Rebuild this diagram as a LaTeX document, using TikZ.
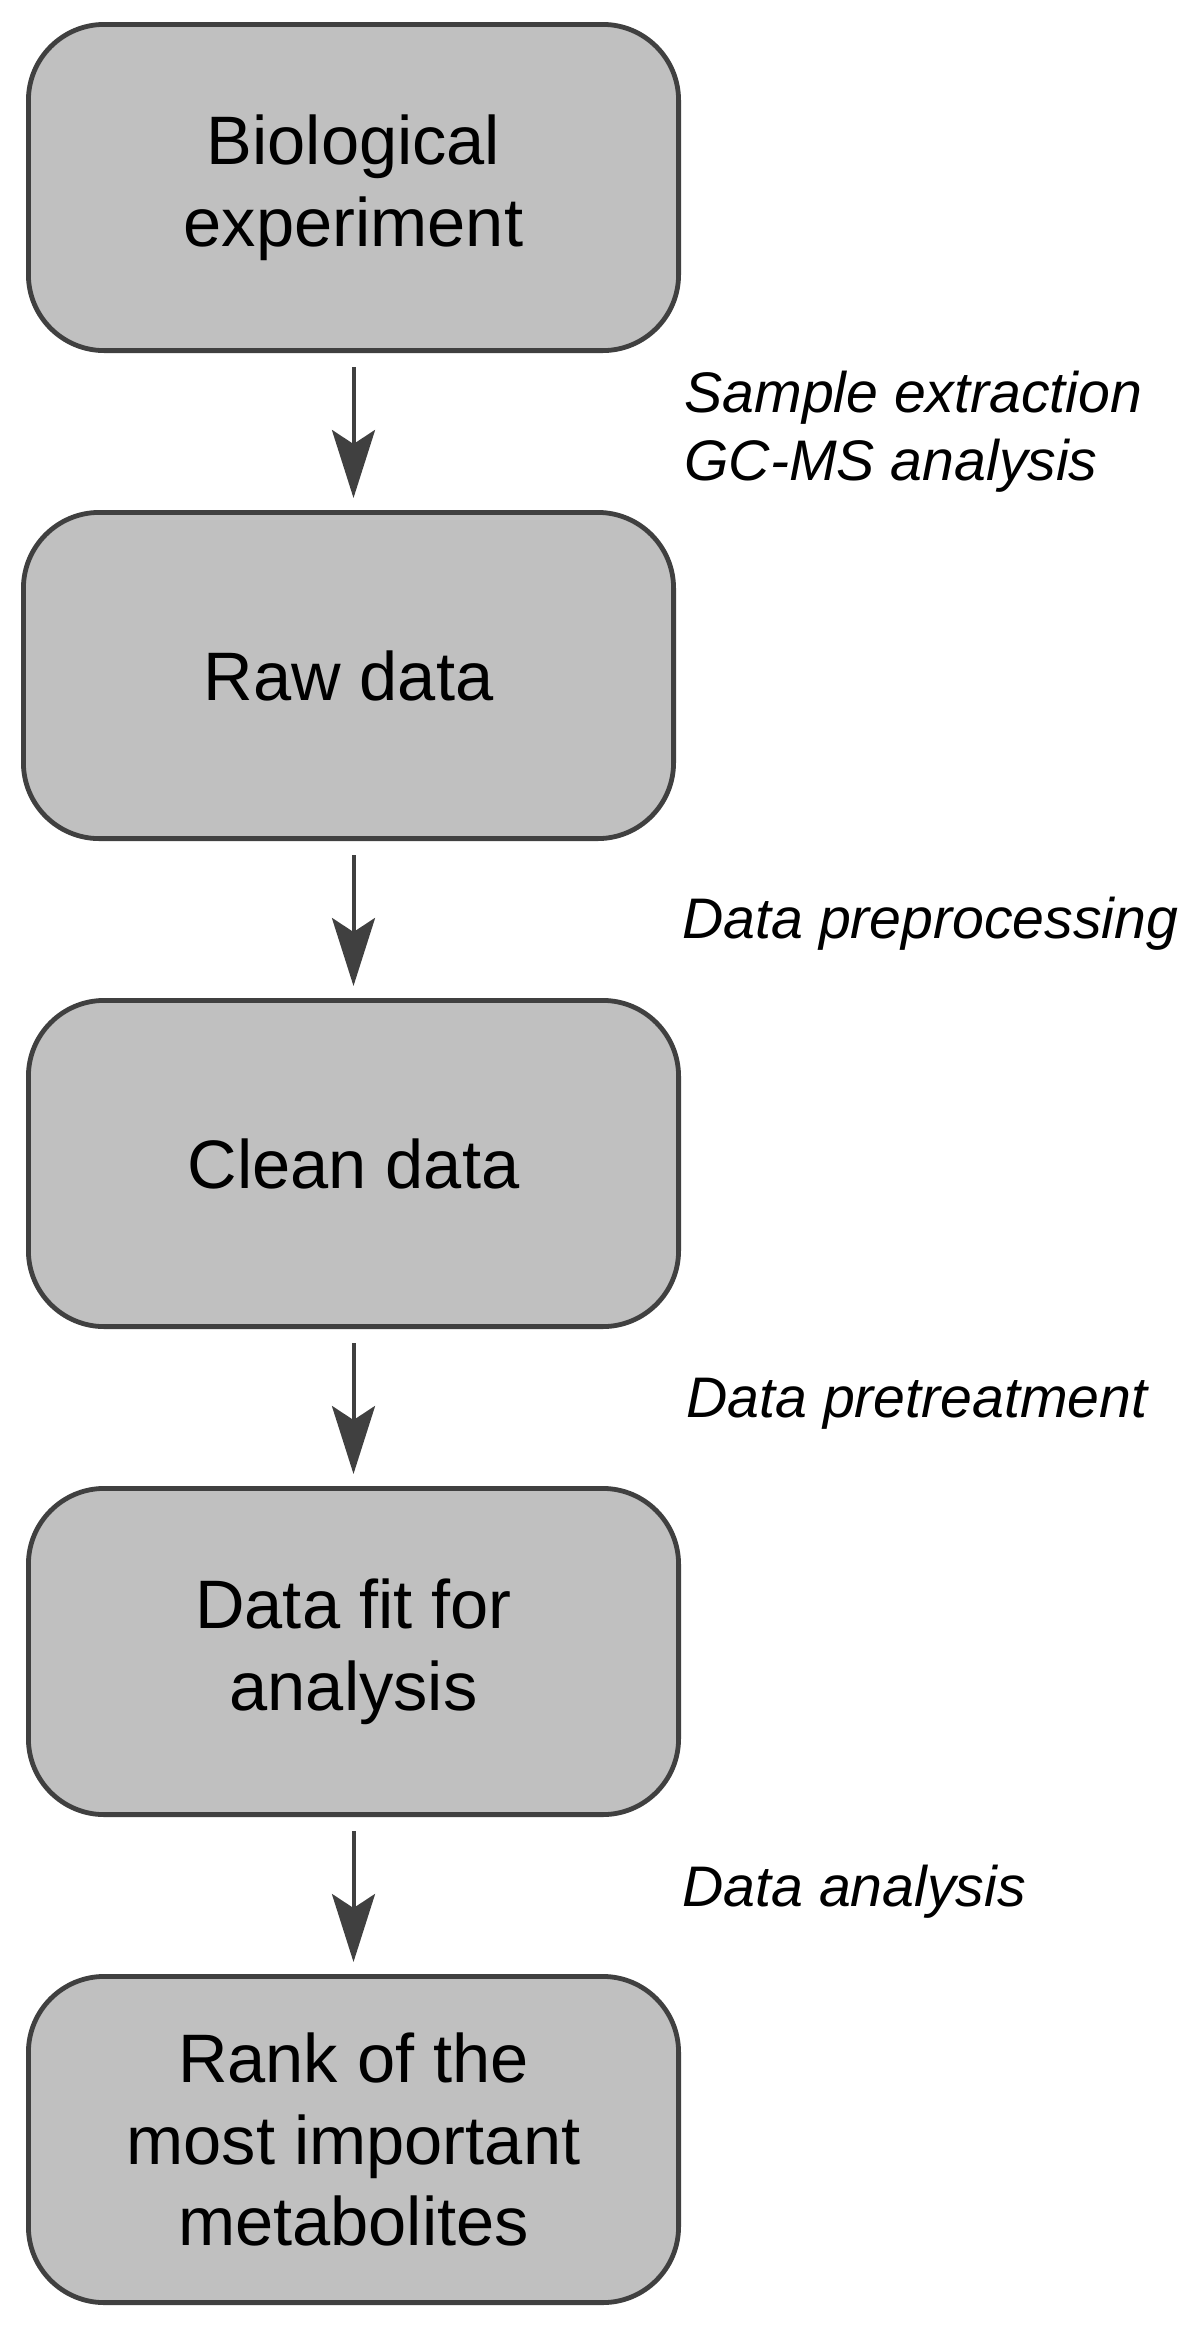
\documentclass[tikz,border=0pt]{standalone}
\usepackage{fontspec}
\setmainfont{Liberation Sans}
\usetikzlibrary{arrows.meta}
\definecolor{boxgray}{HTML}{C0C0C0}
\definecolor{linegray}{HTML}{404040}

\begin{document}
\begin{tikzpicture}[x=0.5pt, y=-0.5pt,
    stage/.style={draw=linegray, line width=2.4pt, fill=boxgray,
        rounded corners=38pt, minimum width=325.1pt, minimum height=163.1pt,
        align=center, inner sep=0pt, font=\fontsize{34.3}{40.8}\selectfont},
    flow/.style={draw=linegray, line width=2pt,
        -{Stealth[length=34pt, width=21.5pt, inset=7pt]},
        shorten <=7pt, shorten >=6pt},
    note/.style={anchor=west, align=left, inner sep=0pt,
        font=\fontsize{28.6}{34}\selectfont\itshape}]
    \useasboundingbox (0,0) rectangle (1200,2326);

    % Etapes
    \node[stage] (exp) at (353.5,187.5) {Biological\\experiment};
    \node[stage] (raw) at (348.5,675.5) {Raw data};
    \node[stage] (clean) at (353.5,1163.5) {Clean data};
    \node[stage] (fit) at (353.5,1651.5) {Data fit for\\analysis};
    \node[stage] (rank) at (353.5,2139.5) {Rank of the\\most important\\metabolites};

    % Fleches
    \draw[flow] (exp.south) -- (exp.south |- raw.north);
    \draw[flow] (raw.south -| exp.south) -- (clean.north);
    \draw[flow] (clean.south) -- (fit.north);
    \draw[flow] (fit.south) -- (rank.north);

    % Operations
    \node[note] (extract) at (684,432) {Sample extraction\\GC-MS analysis};
    \node[note] (preproc) at (682,924) {Data preprocessing};
    \node[note] (pretreat) at (686,1404) {Data pretreatment};
    \node[note] (analysis) at (682,1892) {Data analysis};
\end{tikzpicture}
\end{document}
